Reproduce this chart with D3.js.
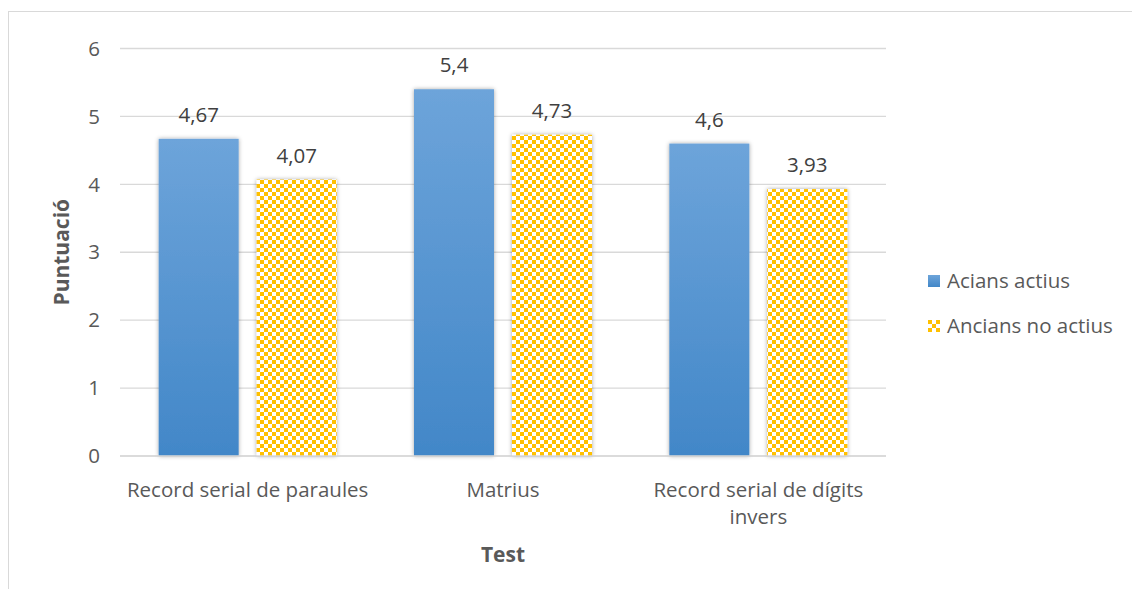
<!DOCTYPE html>
<html><head><meta charset="utf-8">
<script src="https://cdn.jsdelivr.net/npm/d3@7"></script>
<style>body{margin:0;background:#fff}text{font-family:"Open Sans",sans-serif}</style>
</head><body><svg id="c" width="1132" height="589"></svg>
<script>
const categories = [["Record serial de paraules"], ["Matrius"], ["Record serial de dígits", "invers"]];
const seriesNames = ["Acians actius", "Ancians no actius"];
const activeValues = [4.67, 5.4, 4.6];
const inactiveValues = [4.07, 4.73, 3.93];
const valueLabels = [["4,67", "5,4", "4,6"], ["4,07", "4,73", "3,93"]];
const yTicks = [0, 1, 2, 3, 4, 5, 6];

(function(){
const FS = 20.5;
const svg = d3.select("#c");
const defs = svg.append("defs");
const grad = defs.append("linearGradient").attr("id","gb").attr("x1",0).attr("y1",0).attr("x2",0).attr("y2",1);
grad.append("stop").attr("offset","0%").attr("stop-color","#6da4da");
grad.append("stop").attr("offset","100%").attr("stop-color","#4287c8");
const lg = defs.append("linearGradient").attr("id","gl").attr("x1",0).attr("y1",0).attr("x2",0).attr("y2",1);
lg.append("stop").attr("offset","0%").attr("stop-color","#6da4da");
lg.append("stop").attr("offset","100%").attr("stop-color","#4287c8");
const pat = defs.append("pattern").attr("id","chk").attr("width",8).attr("height",8).attr("patternUnits","userSpaceOnUse");
pat.append("rect").attr("width",8).attr("height",8).attr("fill","#fff");
pat.append("rect").attr("width",4).attr("height",4).attr("fill","#ffc000");
pat.append("rect").attr("x",4).attr("y",4).attr("width",4).attr("height",4).attr("fill","#ffc000");
const f = defs.append("filter").attr("id","sh").attr("x","-20%").attr("y","-20%").attr("width","140%").attr("height","140%");
f.append("feDropShadow").attr("dx",0).attr("dy",0).attr("stdDeviation",2.2).attr("flood-color","#000").attr("flood-opacity",0.35);

svg.append("rect").attr("x",8.5).attr("y",11.5).attr("width",1130).attr("height",600)
  .attr("fill","#fff").attr("stroke","#d9d9d9").attr("stroke-width",1);

const pl = 120, pr = 886, pt = 48.5, pb = 456;
const y = d3.scaleLinear().domain([0,6]).range([pb, pt]);
const x = d3.scaleBand().domain(d3.range(categories.length)).range([pl, pr]);
const inner = d3.scaleBand().domain([0,1]).range([0, 2*80+18]).paddingInner(18/98);

svg.append("g").selectAll("line").data(yTicks).join("line")
  .attr("x1",pl).attr("x2",pr).attr("y1",d=>y(d)).attr("y2",d=>y(d))
  .attr("stroke","#d9d9d9").attr("stroke-width",1.3);

svg.append("g").selectAll("text").data(yTicks).join("text")
  .attr("x",100).attr("y",d=>y(d)).attr("dy","0.35em").attr("text-anchor","end")
  .attr("font-size",FS).attr("fill","#595959").text(d=>d);

const series = [activeValues, inactiveValues];
const fills = ["url(#gb)","url(#chk)"];
series.forEach((vals, si) => {
  const g = svg.append("g");
  vals.forEach((v, ci) => {
    const bx = x(ci) + (x.bandwidth() - 178)/2 + inner(si);
    g.append("rect").attr("x",bx).attr("y",y(v)).attr("width",inner.bandwidth()).attr("height",y(0)-y(v))
      .attr("fill",fills[si]).attr("filter","url(#sh)");
    g.append("text").attr("x",bx+inner.bandwidth()/2).attr("y",y(v)-24).attr("dy","0.35em")
      .attr("text-anchor","middle").attr("font-size",FS).attr("fill","#404040").text(valueLabels[si][ci]);
  });
});

svg.append("line").attr("x1",pl).attr("x2",pr).attr("y1",y(0)).attr("y2",y(0)).attr("stroke","#d9d9d9").attr("stroke-width",1.3);

categories.forEach((lines, ci) => {
  const t = svg.append("text").attr("x", x(ci)+x.bandwidth()/2).attr("y",490).attr("text-anchor","middle")
    .attr("font-size",FS).attr("fill","#595959");
  lines.forEach((l, li) => t.append("tspan").attr("x", x(ci)+x.bandwidth()/2).attr("dy", li===0 ? "0.35em" : 27).text(l));
});

svg.append("text").attr("transform",`translate(62,${(pt+pb)/2}) rotate(-90)`).attr("text-anchor","middle")
  .attr("dy","0.35em").attr("font-size",21).attr("font-weight","bold").attr("fill","#595959").text("Puntuació");
svg.append("text").attr("x",(pl+pr)/2).attr("y",555).attr("text-anchor","middle").attr("dy","0.35em")
  .attr("font-size",21).attr("font-weight","bold").attr("fill","#595959").text("Test");

const lgY = [281, 326];
seriesNames.forEach((n, i) => {
  svg.append("rect").attr("x",928).attr("y",lgY[i]-6).attr("width",12).attr("height",12).attr("fill", i===0 ? "url(#gl)" : "url(#chk)");
  svg.append("text").attr("x",947).attr("y",lgY[i]).attr("dy","0.35em").attr("font-size",FS).attr("fill","#595959").text(n);
});
})();
</script></body></html>
